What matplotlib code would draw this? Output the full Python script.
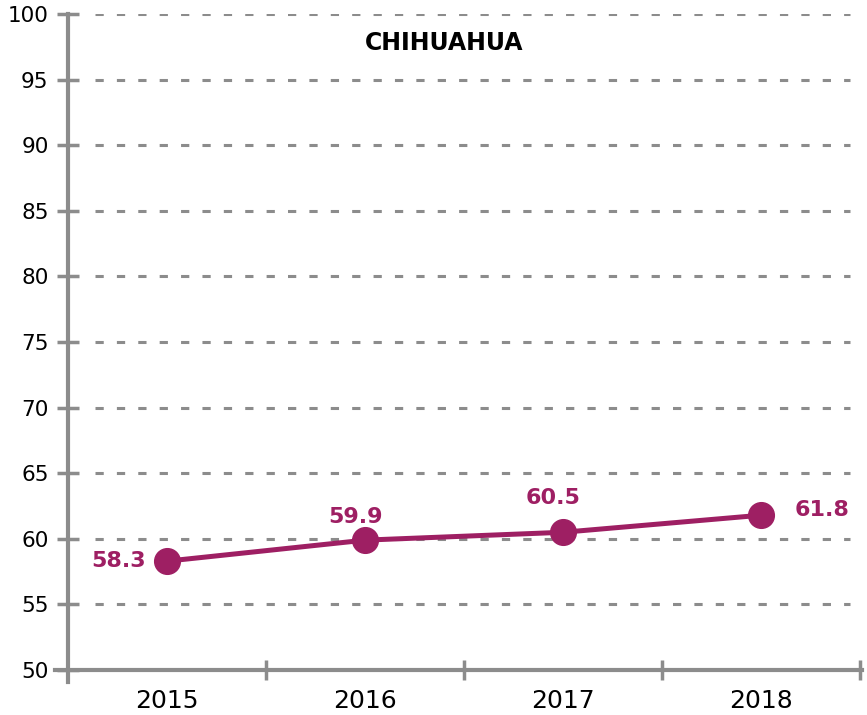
import matplotlib.pyplot as plt

plt.rcParams['font.family'] = ['DejaVu Sans']

# Data
years = ['2015', '2016', '2017', '2018']
values = [58.3, 59.9, 60.5, 61.8]
yticks = [50, 55, 60, 65, 70, 75, 80, 85, 90, 95, 100]

# label offsets in points (dx, dy, ha)
label_pos = [(-15, 0, 'right'), (-7, 17, 'center'), (-7, 25, 'center'), (24, 4, 'left')]

PURPLE = '#9E1F63'
GRAY = '#8C8C8C'

fig = plt.figure(figsize=(8.67, 7.15), dpi=100)
ax = fig.add_axes([0.0634, 0.0462, 0.931, 0.9342])

x = list(range(len(years)))
ax.set_xlim(-0.566, 3.51)
ax.set_ylim(49.09, 100)

# dashed grid
for yv in yticks[1:]:
    ax.plot([-0.364, 3.45], [yv, yv], color=GRAY, lw=2.2,
            linestyle=(0, (2.7, 4.3)), zorder=1, solid_capstyle='butt')

ax.plot(x, values, color=PURPLE, lw=3.6, marker='o', markersize=18.5, zorder=3)

for xi, v, (dx, dy, ha) in zip(x, values, label_pos):
    ax.annotate(f'{v}', (xi, v), xytext=(dx, dy), textcoords='offset points',
                ha=ha, va='center', fontsize=16, fontweight='bold', color=PURPLE)

# spines
for s in ['top', 'right']:
    ax.spines[s].set_visible(False)
ax.spines['left'].set_position(('data', -0.5))
ax.spines['bottom'].set_position(('data', 50))
for s in ['left', 'bottom']:
    ax.spines[s].set_color(GRAY)
    ax.spines[s].set_linewidth(3)

ax.set_yticks(yticks)
ax.tick_params(axis='y', direction='inout', length=16, width=2.5, color=GRAY,
               labelsize=15.5, pad=6, labelcolor='black')

ax.set_xticks([0.5, 1.5, 2.5, 3.5])
ax.set_xticklabels([])
ax.set_xticks(x, minor=True)
ax.set_xticklabels(years, minor=True)
ax.tick_params(axis='x', which='major', direction='inout', length=14, width=2.5, color=GRAY)
ax.tick_params(axis='x', which='minor', length=0, pad=14, labelsize=18)

fig.text(0.512, 0.94, 'CHIHUAHUA', ha='center', va='center',
         fontsize=17, fontweight='bold', color='black')

fig.savefig('out.png', dpi=100)
